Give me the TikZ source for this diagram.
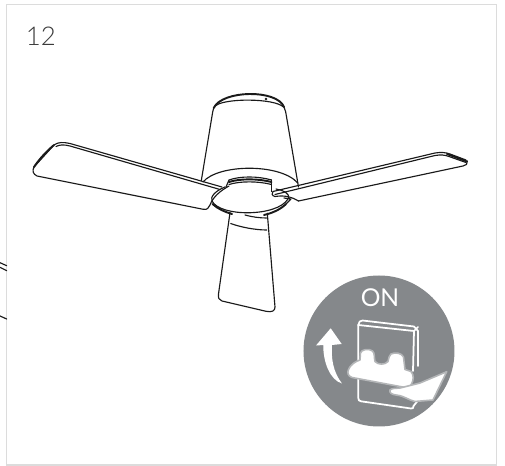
\documentclass[tikz,border=0pt]{standalone}
\usepackage{xcolor}
\usepackage{fontspec}
\setmainfont{Lato}
\newfontfamily\thinfont{Lato}[UprightFont=* Light]
\definecolor{FanLine}{HTML}{1A1A1A}
\definecolor{FrameLine}{HTML}{DCDCDC}
\definecolor{DiscGrey}{HTML}{85888B}
\definecolor{HaloGrey}{HTML}{B4B6B8}
\definecolor{LabelGrey}{HTML}{3A3A3A}
\tikzset{
  fanline/.style={FanLine,line width=0.65pt,line cap=round,line join=round},
  fanthick/.style={FanLine,line width=1.1pt,line cap=round,line join=round},
  switchline/.style={white,line width=1pt,line join=round,line cap=round},
  hand/.style={fill=white,draw=HaloGrey,line width=0.9pt,line join=round},
}
\begin{document}
\begin{tikzpicture}[x=0.02cm,y=-0.02cm]
\path[use as bounding box] (0,0) rectangle (505,466);
\draw[FrameLine,line width=0.6pt] (6.7,466) -- (6.7,4.2) -- (496.7,4.2) -- (496.7,465) -- (6.7,465);
\node[anchor=base west,inner sep=0pt,LabelGrey] (steplabel) at (25.5,46) {\thinfont\fontsize{14.7}{15}\selectfont 12};
% stubs on the left edge
\draw[fanline] (0,262.7) -- (6.7,265.7);
\draw[fanline] (0,267.3) -- (6.7,270.7);
\draw[fanline] (0,316) -- (6.7,319);
% left blade
\draw[fanthick] (34,167) .. controls (40,158) and (48,150) .. (54,145);
\draw[fanline] (34,167) .. controls (32,171) and (33,174) .. (37,176) -- (203.3,209.3)
  .. controls (207,210) and (209,208) .. (210,205) .. controls (213,197) and (220,191) .. (229,186);
\draw[fanline] (34,167) -- (54,145) .. controls (58,142) and (63,142) .. (70,143.5) -- (222,187);
\draw[fanline] (56,146.5) .. controls (60,144.5) and (64,144.5) .. (70,146) -- (220,189.5);
% right blade
\draw[fanline] (273,191.5) -- (435,153) .. controls (441,152) and (446,152.5) .. (450,154) -- (466,160);
\draw[fanline] (275,194.5) -- (435,155.5) .. controls (441,154.5) and (445,155) .. (449,156.5) -- (466,162.5);
\draw[fanthick] (447,154) -- (467,161.5);
\draw[fanline] (467.3,161) .. controls (468,164) and (466,165.5) .. (463,166) -- (298.5,201);
\draw[fanline] (273,191.5) .. controls (271,193) and (272,196) .. (275,196.5) .. controls (285,195) and (292,197) .. (298.5,201);
% canopy
\draw[fanthick] (213.7,108) .. controls (222,90) and (277,89) .. (284,107);
\draw[fanline] (215,106) .. controls (224,98) and (274,98) .. (283.5,107);
\draw[fanline] (213.7,108) -- (212.7,112) -- (201.3,180.5);
\draw[fanline] (284,107) -- (285.7,112) -- (298.5,187);
\draw[fanline] (203,182) .. controls (218,164) and (280,163) .. (297.8,183);
\fill[FanLine] (216.7,104.5) circle (1.4) (266,99) circle (1.4);
% motor housing and disc
\draw[fanline] (225,187) .. controls (215,191) and (210,197) .. (212,201)
  .. controls (220,217) and (277,217) .. (288,199) .. controls (291,193) and (282,190) .. (276,189);
\draw[fanline] (229,180) .. controls (240,176) and (258,176) .. (271.5,180);
\draw[fanthick] (229,182) .. controls (240,178.5) and (258,178.5) .. (271.5,182);
\draw[fanline] (229,184.5) .. controls (240,181) and (258,181) .. (271.5,184.5);
\draw[fanline] (229,180) -- (226,187);
\draw[fanline] (271.5,180) -- (271.5,191.5);
\draw[fanthick] (212.5,204) .. controls (218,209) and (225,212) .. (232,214);
\draw[fanthick] (264,215) .. controls (273,213) and (281,209) .. (286,204);
\draw[fanline] (284,198) -- (291,199) -- (286,204);
% lower blade
\draw[fanline] (230,212.7) -- (218.5,294) .. controls (218,298) and (219,300) .. (222,301)
  -- (266,311.3) .. controls (272,312.5) and (275,311) .. (275,307) -- (267.3,213.3);
\draw[fanline] (230.7,223.5) .. controls (240,227) and (255,230) .. (266.7,230);
\draw[fanline] (245,215) .. controls (252,217) and (260,218) .. (266.5,218);
% switch disc
\fill[DiscGrey] (379,351) circle (75.5);
\node[white,inner sep=0pt,anchor=base] (onlabel) at (380,306.7) {\fontsize{14}{14}\selectfont ON};
\fill[white] (330.7,328.3) -- (341.7,344) -- (332,345) .. controls (331,358) and (333,372) .. (342,383.5)
  .. controls (330,380) and (323,362) .. (323.3,345) -- (316,345.5) -- cycle;
\draw[switchline] (358.3,325) .. controls (358.8,322) and (360,320.5) .. (362.5,320.5) -- (414,326.5) -- (418,331) -- (418,366);
\draw[switchline] (358.3,325) -- (414,331) -- (418,327);
\draw[switchline] (358.3,325) -- (358.3,398) .. controls (358.3,400) and (359,401) .. (361,401.3) -- (411,408.5) .. controls (413,408.7) and (413.5,408) .. (413.5,406);
\draw[switchline] (414,331) -- (413,371);
\draw[switchline] (413.5,406) -- (418,400.5);
\draw[hand] (348.5,369.5) .. controls (350,365) and (356,361) .. (360,360) -- (360.5,353)
  .. controls (361,349.5) and (369,348) .. (372.5,351) .. controls (375,353) and (374,358) .. (375,361.5)
  .. controls (378,365) and (385,365) .. (388,361.5) .. controls (389,358) and (389,355) .. (391,354)
  .. controls (395,352) and (402,353) .. (403.5,357) -- (405,369.5) -- (411,371.5) .. controls (414,375) and (414,380) .. (411,385)
  -- (408,388) -- (352,377.5) .. controls (348,376) and (347,373) .. (348.5,369.5) -- cycle;
\draw[hand] (390,390) .. controls (392,388) and (396,388.5) .. (400,388) -- (420,383) -- (446.7,371.7)
  -- (433,400) -- (415,401.5) .. controls (408,400) and (405,396) .. (396,395) .. controls (392,394.5) and (389,393) .. (390,390) -- cycle;
\end{tikzpicture}
\end{document}
